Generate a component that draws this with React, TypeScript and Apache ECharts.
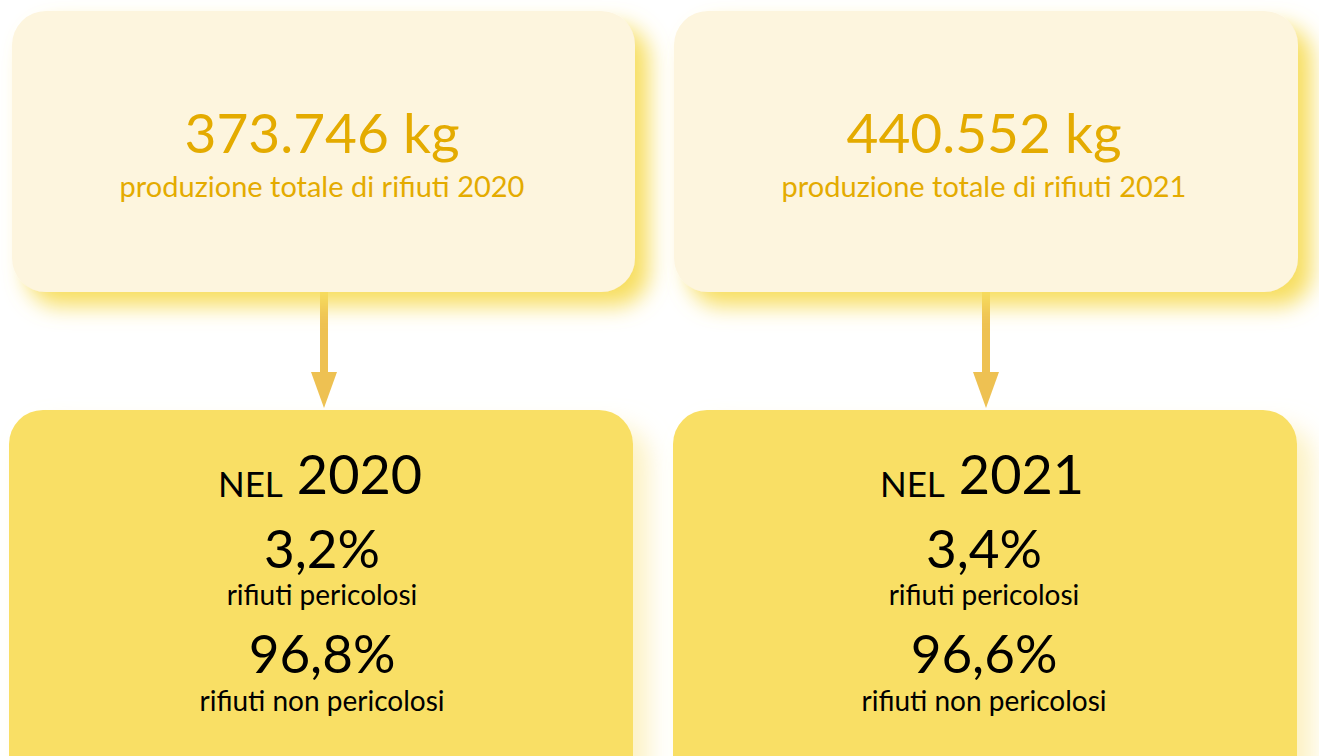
import React, { useEffect, useRef } from "react";
import * as echarts from "echarts";

const years = ["2020", "2021"];
const totalKg = [373746, 440552];
const hazardousPct = [3.2, 3.4];
const nonHazardousPct = [96.8, 96.6];
const totalLabelPrefix = "produzione totale di rifiuti";
const hazardousLabel = "rifiuti pericolosi";
const nonHazardousLabel = "rifiuti non pericolosi";
const yearPrefix = "NEL";

const FONT = "Lato, 'Open Sans', sans-serif";
const GOLD = "#E4AB00";

function fmtThousands(n: number): string {
  const s = String(Math.round(n));
  return s.replace(/\B(?=(\d{3})+(?!\d))/g, ".");
}
function fmtPct(n: number): string {
  return n.toFixed(1).replace(".", ",") + "%";
}

export default function App() {
  const ref = useRef<HTMLDivElement>(null);
  useEffect(() => {
    if (!ref.current) return;
    const chart = echarts.init(ref.current, null, { renderer: "svg" });
    const cols = [
      { topX: 12, topW: 623, botX: 9, botW: 624, cx: 322, arrowX: 324 },
      { topX: 674, topW: 624, botX: 673, botW: 624, cx: 984, arrowX: 986 },
    ];
    const elements: any[] = [];
    cols.forEach((c, i) => {
      // top card
      elements.push({
        type: "rect",
        shape: { x: c.topX, y: 11, width: c.topW, height: 281, r: 34 },
        style: {
          fill: "#FDF5DE",
          shadowBlur: 22,
          shadowColor: "#F7DE5E",
          shadowOffsetX: 14,
          shadowOffsetY: 14,
        },
        z: 2,
      });
      elements.push({
        type: "text",
        x: c.cx,
        y: 132,
        style: {
          text: fmtThousands(totalKg[i]) + " kg",
          font: `400 55px ${FONT}`,
          fill: GOLD,
          align: "center",
          verticalAlign: "middle",
        },
        z: 3,
      });
      elements.push({
        type: "text",
        x: c.cx,
        y: 185,
        style: {
          text: `${totalLabelPrefix} ${years[i]}`,
          font: `400 29px ${FONT}`,
          fill: GOLD,
          align: "center",
          verticalAlign: "middle",
        },
        z: 3,
      });
      // arrow
      elements.push({
        type: "rect",
        shape: { x: c.arrowX - 4, y: 292, width: 8, height: 82 },
        style: { fill: "#EEC152" },
        z: 1,
      });
      elements.push({
        type: "polygon",
        shape: {
          points: [
            [c.arrowX - 13, 372],
            [c.arrowX + 13, 372],
            [c.arrowX, 408],
          ],
        },
        style: { fill: "#EEC152" },
        z: 1,
      });
      // bottom card
      elements.push({
        type: "rect",
        shape: { x: c.botX, y: 410, width: c.botW, height: 400, r: 34 },
        style: {
          fill: "#F9DF65",
          shadowBlur: 24,
          shadowColor: "rgba(251,236,170,0.7)",
          shadowOffsetX: 16,
          shadowOffsetY: 16,
        },
        z: 2,
      });
      elements.push({
        type: "text",
        x: c.cx - 2,
        y: 500,
        style: {
          text: `{s|${yearPrefix}}{g| }{b|${years[i]}}`,
          fill: "#000",
          align: "center",
          verticalAlign: "bottom",
          rich: {
            s: { font: `35px ${FONT}`, fill: "#000", verticalAlign: "bottom", lineHeight: 48 },
            g: { font: `35px ${FONT}`, fill: "#000", width: 14, verticalAlign: "bottom", lineHeight: 48 },
            b: { font: `54px ${FONT}`, fill: "#000", verticalAlign: "bottom", lineHeight: 60 },
          },
        },
        z: 3,
      });
      elements.push({
        type: "text",
        x: c.cx,
        y: 547,
        style: {
          text: fmtPct(hazardousPct[i]),
          font: `53px ${FONT}`,
          fill: "#000",
          align: "center",
          verticalAlign: "middle",
        },
        z: 3,
      });
      elements.push({
        type: "text",
        x: c.cx,
        y: 594,
        style: {
          text: hazardousLabel,
          font: `28px ${FONT}`,
          fill: "#000",
          align: "center",
          verticalAlign: "middle",
        },
        z: 3,
      });
      elements.push({
        type: "text",
        x: c.cx,
        y: 652,
        style: {
          text: fmtPct(nonHazardousPct[i]),
          font: `53px ${FONT}`,
          fill: "#000",
          align: "center",
          verticalAlign: "middle",
        },
        z: 3,
      });
      elements.push({
        type: "text",
        x: c.cx,
        y: 700,
        style: {
          text: nonHazardousLabel,
          font: `28px ${FONT}`,
          fill: "#000",
          align: "center",
          verticalAlign: "middle",
        },
        z: 3,
      });
    });
    chart.setOption({
      animation: false,
      backgroundColor: "#ffffff",
      graphic: { elements },
    });
    return () => chart.dispose();
  }, []);
  return (
    <div
      ref={ref}
      style={{ position: "fixed", left: 0, top: 0, width: 1319, height: 756 }}
    />
  );
}
